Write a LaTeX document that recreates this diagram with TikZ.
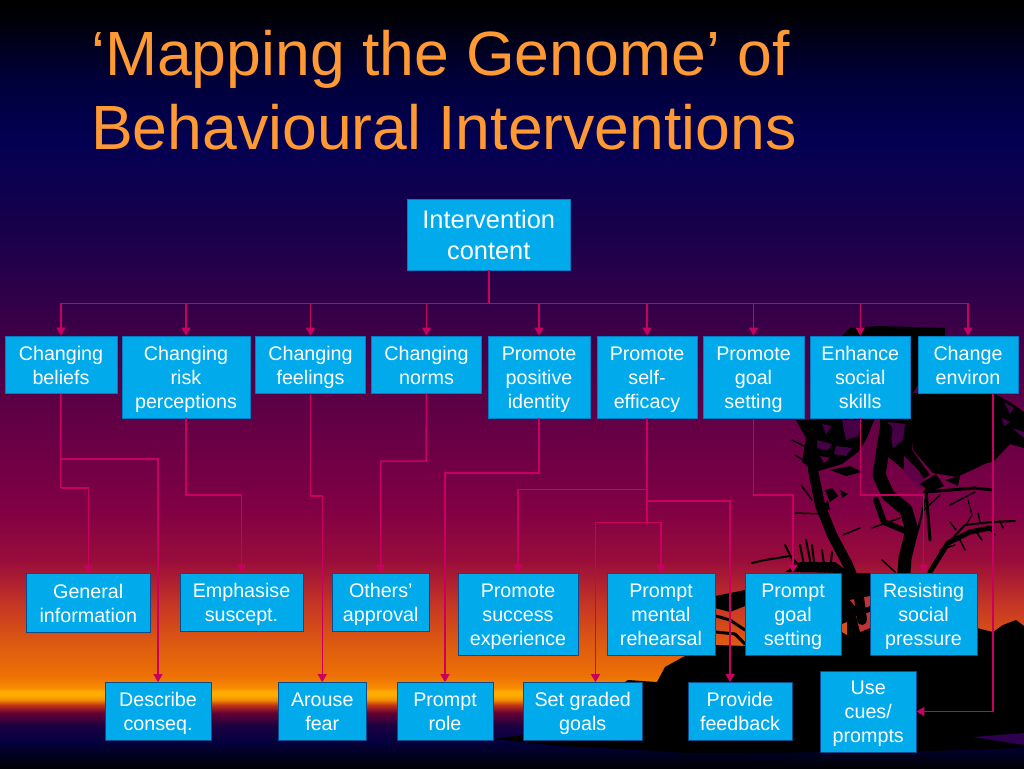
\documentclass[tikz,border=0pt]{standalone}
\usepackage{fontspec}
\setmainfont{Liberation Sans}
\usetikzlibrary{arrows.meta}
\pgfdeclareverticalshading{skyshade}{100bp}{
rgb(0bp)=(0,0,0);
rgb(25bp)=(0,0,0.02);
rgb(25.85bp)=(0,0,0.12);
rgb(26.8bp)=(0.02,0,0.25);
rgb(27.8bp)=(0.12,0,0.25);
rgb(28.6bp)=(0.40,0,0.20);
rgb(29.1bp)=(0.75,0.20,0.10);
rgb(29.43bp)=(0.95,0.55,0);
rgb(29.76bp)=(1,0.68,0);
rgb(30bp)=(1,0.68,0);
rgb(30.2bp)=(0.98,0.55,0);
rgb(31bp)=(0.93,0.44,0.02);
rgb(33bp)=(0.87,0.36,0.06);
rgb(35.5bp)=(0.78,0.22,0.14);
rgb(38.5bp)=(0.60,0.05,0.23);
rgb(42bp)=(0.50,0,0.27);
rgb(49bp)=(0.36,0,0.27);
rgb(55bp)=(0.20,0,0.28);
rgb(61bp)=(0.08,0,0.30);
rgb(66bp)=(0.01,0,0.32);
rgb(70bp)=(0,0,0.22);
rgb(74bp)=(0,0,0.02);
rgb(75bp)=(0,0,0);
rgb(100bp)=(0,0,0)}
\definecolor{boxfill}{RGB}{0,170,235}
\definecolor{boxedge}{RGB}{10,75,140}
\definecolor{softedge}{RGB}{0,125,195}
\definecolor{wirecol}{RGB}{200,0,95}
\definecolor{titlecol}{RGB}{255,153,51}
\definecolor{holeup}{RGB}{70,0,70}
\definecolor{holemid}{RGB}{95,0,70}
\definecolor{wedge}{RGB}{45,0,80}
\definecolor{patcha}{RGB}{195,50,50}
\definecolor{patchb}{RGB}{215,80,30}
\tikzset{
  x=1pt,y=-1pt,
  card/.style={draw=boxedge,line width=0.8pt,fill=boxfill,text=white,inner sep=0pt,align=center,
    font=\fontsize{19.7}{24}\selectfont},
  wire/.style={draw=wirecol,line width=1.5pt},
  wirearrow/.style={wire,-{Triangle[width=9pt,length=8pt]}},
  limb/.style={draw=black,line cap=round,line join=round},
}
\newcommand{\card}[6]{\node[card,minimum width=#4-#2,minimum height=#5-#3] (#1) at ({(#2+#4)/2},{(#3+#5)/2}) {\rule{0pt}{20pt}#6\rule[-5.4pt]{0pt}{5.4pt}};}
\begin{document}
\begin{tikzpicture}
\useasboundingbox (0,0) rectangle (1024,768);
\shade[shading=skyshade] (0,0) rectangle (1024,768);
\begin{scope}
\clip (0,0) rectangle (1024,768);
% land
\fill[black] (493,739) -- (523,735) -- (600,700) -- (628,680) -- (657,682) -- (665,667) -- (683,657) -- (700,650) -- (716,645) -- (745,646) -- (745,600) -- (841,600) -- (870,600) -- (940,600) -- (977,628) -- (993,632) -- (1003,625) -- (1016,620) -- (1024,626) -- (1024,748) -- (900,752) -- (687,753) -- (640,750) -- (560,746) -- cycle;
\fill[wedge] (973,737) -- (1024,733) -- (1024,745) -- cycle;
\fill[black] (841,573) rectangle (870,655);
\fill[patcha] (850,600) -- (870,596) -- (870,606) -- (858,610) -- cycle;
\fill[patcha] (856,616) -- (870,612) -- (870,628) -- (860,632) -- cycle;
\fill[patchb] (842,624) -- (847,622) -- (847,635) -- (842,632) -- cycle;
% canopy
\fill[black] (842,336) -- (850,328) -- (880,326) -- (945,328) -- (945,340) -- (913,393) -- (992,393) -- (992,462) -- (987,463) -- (957,477) -- (933,473) -- (913,450) -- (910,420) -- (905,418) -- (860,418) -- cycle;
\fill[black] (993,393) -- (1010,402) -- (1024,412) -- (1024,448) -- (1010,444) -- (993,462) -- cycle;
% ragged blob
\fill[black] (796,420) -- (875,418) -- (866,440) -- (858,452) -- (842,464) -- (815,472) -- (802,462) -- (806,438) -- cycle;
\fill[black] (880,418) -- (912,420) -- (912,450) -- (930,475) -- (918,482) -- (898,465) -- (880,450) -- cycle;
% holes
\fill[holeup] (1004,402) -- (1014,408) -- (1010,414) -- cycle;
\fill[holeup] (1012,428) -- (1024,432) -- (1024,438) -- cycle;
\fill[holeup] (1002,418) -- (1010,422) -- (1004,426) -- cycle;
\fill[holeup] (842,420) -- (862,420) -- (858,436) -- (846,440) -- cycle;
\fill[holeup] (888,422) -- (905,424) -- (903,440) -- (893,448) -- cycle;
\fill[holeup] (822,424) -- (832,426) -- (826,434) -- cycle;
\fill[holeup] (816,440) -- (832,444) -- (828,450) -- (816,448) -- cycle;
\fill[holeup] (836,446) -- (852,448) -- (846,456) -- (834,454) -- cycle;
\fill[holemid] (904,456) -- (918,470) -- (926,482) -- (920,488) -- (904,472) -- cycle;
\fill[holemid] (820,456) -- (830,458) -- (824,463) -- cycle;
% trunks
\draw[limb,line width=10pt] (812,440) -- (813,470) -- (820,505) -- (832,535) -- (848,565) -- (858,590) -- (862,620);
\draw[limb,line width=13pt] (886,430) -- (879,475) -- (888,495) -- (906,510) -- (912,530) -- (905,558) -- (902,600);
\draw[limb,line width=6pt] (876,500) -- (884,522) -- (908,532);
\draw[limb,line width=5pt] (930,572) -- (948,543) -- (970,532) -- (990,528);
\draw[limb,line width=2pt] (948,543) -- (965,525) -- (992,522) -- (1015,521);
\draw[limb,line width=3pt] (926,490) -- (930,540);
\draw[limb,line width=2pt] (925,500) -- (918,530);
\draw[limb,line width=3pt] (925,492) -- (975,488) -- (992,490);
\draw[limb,line width=1.5pt] (950,505) -- (975,492);
\draw[limb,line width=1.5pt] (922,512) -- (940,495);
\draw[limb,line width=1.5pt] (872,528) -- (900,518);
\draw[limb,line width=1.5pt] (882,560) -- (895,572);
\draw[limb,line width=1.5pt] (843,535) -- (860,528);
\draw[limb,line width=1.5pt] (940,550) -- (955,545);
\draw[limb,line width=1.2pt] (968,500) -- (972,515) -- (966,525);
\draw[limb,line width=1.5pt] (795,513) -- (825,514);
\draw[limb,line width=1.5pt] (801,485) -- (812,500);
\draw[limb,line width=1.5pt] (795,455) -- (806,462);
\draw[limb,line width=1.5pt] (792,440) -- (808,448);
\draw[limb,line width=1.5pt] (960,540) -- (965,550);
\draw[limb,line width=1.5pt] (975,530) -- (982,540);
\draw[limb,line width=1.5pt] (988,528) -- (995,535);
\draw[limb,line width=1.5pt] (956,530) -- (950,522);
\draw[limb,line width=1.5pt] (980,522) -- (978,513);
\draw[limb,line width=1.5pt] (1000,521) -- (1003,528);
% dense leaves
\fill[black] (825,490) -- (832,488) -- (838,496) -- (830,502) -- cycle;
\fill[black] (840,490) -- (848,494) -- (842,498) -- cycle;
\fill[black] (820,508) -- (828,500) -- (830,510) -- cycle;
\fill[black] (830,470) -- (850,466) -- (862,472) -- (846,476) -- cycle;
\fill[black] (920,484) -- (936,474) -- (944,486) -- (930,492) -- cycle;
\fill[black] (945,480) -- (960,476) -- (958,486) -- cycle;
% low bush
\draw[limb,line width=2pt] (752,563) -- (765,560) -- (790,556) -- (800,566);
\draw[limb,line width=2pt] (785,545) -- (795,565);
\draw[limb,line width=2pt] (800,545) -- (805,570);
\draw[limb,line width=2pt] (806,540) -- (812,570);
\draw[limb,line width=2pt] (812,545) -- (815,570);
\draw[limb,line width=2pt] (822,550) -- (825,572);
\draw[limb,line width=2pt] (832,552) -- (830,572);
\fill[black] (785,572) -- (800,562) -- (835,562) -- (850,573) -- cycle;
% branches low, orange zone
\fill[black] (715,596) -- (745,590) -- (745,606) -- (730,612) -- (715,608) -- cycle;
\draw[limb,line width=3pt] (716,616) -- (730,620) -- (745,630);
\draw[limb,line width=3pt] (716,632) -- (735,634) -- (745,644);
\end{scope}
% title
\node[anchor=north west,inner sep=0pt,text=titlecol,align=left,font=\fontsize{62.5}{74.5}\selectfont] (title) at (91,30) {‘Mapping the Genome’ of\\Behavioural Interventions};
% boxes
\begin{scope}[card/.append style={draw=softedge}]
\node[card,font=\fontsize{25.4}{31}\selectfont,minimum width=162.5,minimum height=71] (root) at (488.75,234.5) {\rule{0pt}{25pt}Intervention\\content\rule[-6.6pt]{0pt}{6.6pt}};
\card{a1}{5}{336}{117}{393.5}{Changing\\beliefs}
\card{a2}{122}{336}{250}{418}{Changing\\risk\\perceptions}
\card{a3}{255.5}{336}{365.5}{393.5}{Changing\\feelings}
\card{a4}{371.5}{336}{481.5}{393.5}{Changing\\norms}
\card{a5}{488}{336}{590}{418}{Promote\\positive\\identity}
\card{a6}{597}{336}{697}{418}{Promote\\self-\\efficacy}
\card{a7}{703}{336}{804}{418}{Promote\\goal\\setting}
\card{a8}{810}{336}{910.5}{418}{Enhance\\social\\skills}
\card{a9}{918}{336}{1018}{393.5}{Change\\environ}
\end{scope}
\card{c1}{26.5}{573.5}{150}{632}{General\\information}
\card{c2}{180}{573}{303}{631}{Emphasise\\suscept.}
\card{c3}{332.5}{573}{429}{631}{Others’\\approval}
\card{c4}{458}{573}{578}{655}{Promote\\success\\experience}
\card{c5}{607}{573}{715}{655}{Prompt\\mental\\rehearsal}
\card{c6}{745}{573}{841}{655}{Prompt\\goal\\setting}
\card{c7}{870}{573}{977}{655}{Resisting\\social\\pressure}
\card{d1}{105}{682.5}{211}{740}{Describe\\conseq.}
\card{d2}{278.5}{682.5}{366}{740}{Arouse\\fear}
\card{d3}{397}{682.5}{493}{740}{Prompt\\role}
\card{d4}{523.5}{682.5}{642}{740}{Set graded\\goals}
\card{d5}{688}{682.5}{792}{740}{Provide\\feedback}
\card{d6}{820.5}{671}{916}{752}{Use\\cues/\\prompts}
% junctions
\coordinate (bus) at (488.75,303.5);
\coordinate (kb) at (60.5,459);
\coordinate (kb2) at (60.5,488);
\coordinate (kr) at (186,495);
\coordinate (kf) at (310.5,496);
\coordinate (kn) at (426,461);
\coordinate (kp) at (539,473);
\coordinate (ke1) at (647,489.5);
\coordinate (ke2) at (647,501);
\coordinate (ke3) at (647,522.5);
\coordinate (kg) at (753.5,495);
\coordinate (ks) at (860.25,495);
\coordinate (kc) at (993,393.5);
\coordinate (kc2) at (993,711.5);
% connectors
\draw[wire] (root.south) -- (bus);
\foreach \t in {a1,a2,a3,a4,a5,a6,a7,a8,a9}{\draw[wirearrow] (bus) -| (\t.north);}
\draw[wire] (a1.south) -- (kb2);
\draw[wirearrow] (kb2) -| (c1.north);
\draw[wirearrow] (kb) -| (d1.north);
\draw[wirearrow] (a2.south) -- (kr) -| (c2.north);
\draw[wirearrow] (a3.south) -- (kf) -| (d2.north);
\draw[wirearrow] (a4.south) -- (kn) -| (c3.north);
\draw[wirearrow] (a5.south) -- (kp) -| (d3.north);
\draw[wire] (a6.south) -- (ke3);
\draw[wirearrow] (ke1) -| (c4.north);
\draw[wirearrow] (ke2) -| ([xshift=-10pt]d5.north);
\draw[wirearrow] (ke3) -| (c5.north);
\draw[wirearrow] (ke3) -| ([xshift=12.75pt]d4.north);
\draw[wirearrow] (a7.south) -- (kg) -| (c6.north);
\draw[wirearrow] (a8.south) -- (ks) -| (c7.north);
\draw[wire] (kc) -- (kc2);
\draw[wirearrow] (kc2) -- (d6.east);
\end{tikzpicture}
\end{document}
